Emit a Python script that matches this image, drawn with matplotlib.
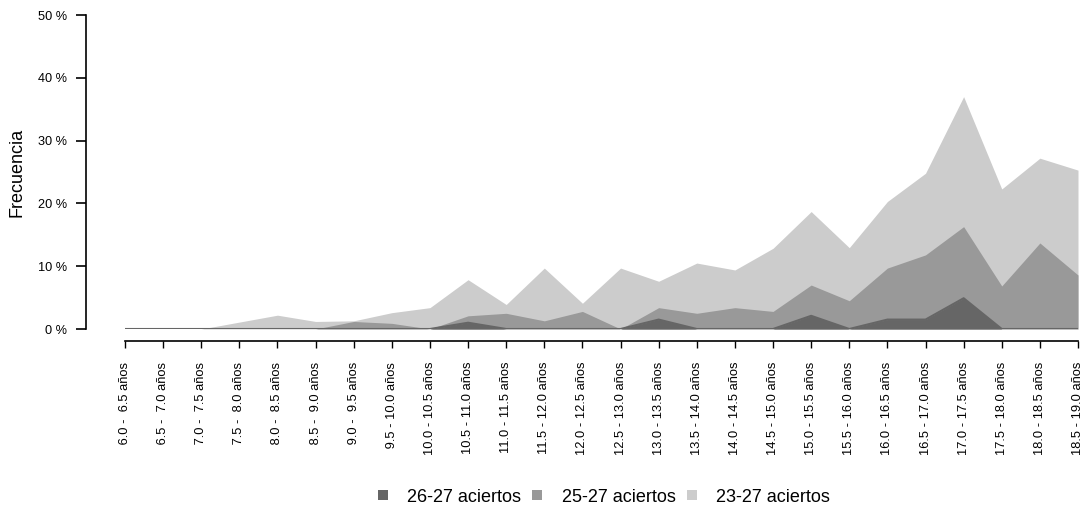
import numpy as np
import matplotlib.pyplot as plt
from matplotlib.lines import Line2D

plt.rcParams['font.family'] = ['Liberation Sans', 'DejaVu Sans']

starts = np.arange(6.0, 19.0, 0.5)
labels = [f"{a:4.1f} - {a + 0.5:4.1f} años" for a in starts]

# frecuencias (%)
acc_23_27 = [0, 0, 0, 1.1, 2.2, 1.2, 1.3, 2.6, 3.4, 7.85, 3.9, 9.7, 4.1,
             9.7, 7.6, 10.5, 9.4, 12.85, 18.7, 12.95, 20.3, 24.8, 37.0, 22.3, 27.2, 25.3]
acc_25_27 = [0, 0, 0, 0, 0, 0, 1.2, 0.9, 0, 2.1, 2.5, 1.3, 2.8,
             0, 3.4, 2.5, 3.4, 2.8, 7.0, 4.5, 9.7, 11.8, 16.3, 6.85, 13.7, 8.6]
acc_26_27 = [0, 0, 0, 0, 0, 0, 0, 0, 0, 1.0, 0, 0, 0,
             0, 1.5, 0, 0, 0, 2.1, 0, 1.5, 1.5, 4.9, 0, 0, 0]

names = ['26-27 aciertos', '25-27 aciertos', '23-27 aciertos']
colors = ['#666666', '#999999', '#cccccc']

fig = plt.figure(figsize=(10.89, 5.16), dpi=100)
W, H = 1089, 516
ax = fig.add_axes([125 / W, 1 - 329 / H, (1078 - 125) / W, (329 - 15) / H])

x = np.arange(len(labels))
ax.fill_between(x, 0, acc_23_27, color=colors[2], lw=0)
ax.fill_between(x, 0, acc_25_27, color=colors[1], lw=0)
ax.fill_between(x, 0, acc_26_27, color=colors[0], lw=0)
ax.plot(x, acc_26_27, color=colors[0], lw=1.5, solid_capstyle='butt')

for s in ['top', 'right']:
    ax.spines[s].set_visible(False)
ax.spines['left'].set_position(('outward', 28))
ax.spines['bottom'].set_position(('outward', 8.6))
ax.spines['left'].set_linewidth(1.2)
ax.spines['bottom'].set_linewidth(1.2)
ax.tick_params(axis='y', length=7, width=1.2, pad=7, labelsize=9.2)
ax.tick_params(axis='x', length=5, width=1.0, pad=10, labelsize=9.3,
               labelrotation=90)

ax.set_xlim(0, len(labels) - 1)
ax.set_ylim(0, 50)
ax.set_xticks(x)
ax.set_xticklabels(labels)
ax.set_yticks(np.arange(0, 51, 10))
ax.set_yticklabels([f"{v} %" for v in range(0, 51, 10)])
ax.set_ylabel('Frecuencia', fontsize=13, labelpad=9)
ax.spines['left'].set_bounds(0, 50)
ax.spines['bottom'].set_bounds(0, len(labels) - 1)

handles = [Line2D([], [], marker='s', ls='none', markersize=7.5, color=c,
                  markeredgewidth=0) for c in colors]
fig.legend(handles, names, loc='center', bbox_to_anchor=(601 / W, 1 - 497 / H),
           ncol=3, frameon=False, fontsize=13, handletextpad=0.75,
           columnspacing=0.3, handlelength=1.2)

fig.savefig('out.png', dpi=100)
